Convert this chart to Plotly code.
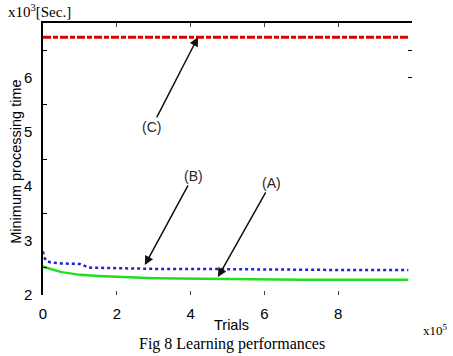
import plotly.graph_objects as go

# Data (x in units of 10^5 trials, y in units of 10^3 sec)
x_a = [0, 0.05, 0.5, 1.0, 1.5, 2.0, 2.5, 3.0, 4.0, 5.0, 6.0, 7.0, 8.0, 9.0, 9.9]
y_a = [2.53, 2.51, 2.42, 2.37, 2.35, 2.33, 2.32, 2.31, 2.30, 2.29, 2.29, 2.28, 2.28, 2.28, 2.28]

x_b = [0, 0.03, 0.08, 0.2, 0.5, 0.8, 1.0, 1.15, 1.3, 1.5, 2.0, 3.0, 4.0, 5.0, 6.0, 8.0, 9.9]
y_b = [2.80, 2.70, 2.63, 2.60, 2.58, 2.57, 2.57, 2.53, 2.50, 2.50, 2.49, 2.48, 2.48, 2.47, 2.47, 2.46, 2.46]

x_c = [0, 9.9]
y_c = [6.74, 6.74]

x_ticks = [0, 2, 4, 6, 8]
y_ticks = [2, 3, 4, 5, 6]
y_minor = [2.5, 3.5, 4.5, 5.5, 6.5]
y_right = [6, 6.5]

labels = [
    # text, tip x, tip y, text x, text y
    ("(C)", 4.2, 6.74, 2.95, 5.09),
    ("(B)", 2.76, 2.55, 4.07, 4.19),
    ("(A)", 4.74, 2.33, 6.18, 4.06),
]

fig = go.Figure()
fig.add_trace(go.Scatter(x=x_c, y=y_c, mode="lines",
                         line=dict(color="#e00000", width=3, dash="8px,2px,5px,2px"),
                         showlegend=False))
fig.add_trace(go.Scatter(x=x_b, y=y_b, mode="lines",
                         line=dict(color="#2222cc", width=2.5, dash="dot"),
                         showlegend=False))
fig.add_trace(go.Scatter(x=x_a, y=y_a, mode="lines",
                         line=dict(color="#22dd22", width=2.5),
                         showlegend=False))
# invisible traces for the secondary axes
fig.add_trace(go.Scatter(x=[0], y=[2], xaxis="x2", yaxis="y2", mode="markers",
                         marker=dict(opacity=0), showlegend=False, hoverinfo="skip"))
fig.add_trace(go.Scatter(x=[0], y=[2], xaxis="x", yaxis="y3", mode="markers",
                         marker=dict(opacity=0), showlegend=False, hoverinfo="skip"))

tickfont = dict(family="Liberation Sans, Arial", size=15, color="black")

annotations = []
for t, x, y, tx, ty in labels:
    annotations.append(dict(x=x, y=y, ax=tx, ay=ty, xref="x", yref="y", axref="x", ayref="y",
                            text=t, showarrow=True, arrowhead=2, arrowsize=1.2, arrowwidth=1.5,
                            arrowcolor="#111111",
                            font=dict(family="Liberation Sans, Arial", size=14, color="#332222")))

annotations += [
    dict(text="Minimum processing time", xref="paper", yref="paper", x=-0.073, y=0.49,
         textangle=-90, showarrow=False, xanchor="center", yanchor="middle",
         font=dict(family="Liberation Sans, Arial", size=14.5, color="black")),
    dict(text="Trials", xref="paper", yref="paper", x=0.512, y=-0.111,
         showarrow=False, xanchor="center", yanchor="middle",
         font=dict(family="Liberation Sans, Arial", size=14.5, color="black")),
    dict(text="x10<sup>5</sup>", xref="paper", yref="paper", x=1.025, y=-0.128,
         showarrow=False, xanchor="left", yanchor="middle",
         font=dict(family="Liberation Serif, Times New Roman", size=13, color="black")),
    dict(text="x10<sup>3</sup>[Sec.]", xref="paper", yref="paper", x=-0.1, y=1.044,
         showarrow=False, xanchor="left", yanchor="middle",
         font=dict(family="Liberation Serif, Times New Roman", size=15, color="black")),
    dict(text="Fig 8 Learning performances", xref="paper", yref="paper", x=0.512, y=-0.18,
         showarrow=False, xanchor="center", yanchor="middle",
         font=dict(family="Liberation Serif, Times New Roman", size=16, color="black")),
]

fig.update_layout(
    width=453, height=356,
    margin=dict(l=43, r=41, t=23, b=61),
    paper_bgcolor="white", plot_bgcolor="white",
    xaxis=dict(range=[0, 10], tickvals=x_ticks, ticks="inside", ticklen=4, tickcolor="#444",
               showline=False, showgrid=False, zeroline=False, tickfont=tickfont,
               ticklabelstandoff=8),
    xaxis2=dict(range=[0, 10], overlaying="x", side="top", tickvals=x_ticks, ticks="inside",
                ticklen=4, tickcolor="#444", showticklabels=False, showline=True,
                linecolor="black", linewidth=1.5, showgrid=False, zeroline=False),
    yaxis=dict(range=[2, 7], tickvals=y_ticks, ticks="", showline=True, linecolor="black",
               linewidth=1.5, showgrid=False, zeroline=False, tickfont=tickfont,
               ticklabelstandoff=6),
    yaxis2=dict(range=[2, 7], overlaying="y", side="left", tickvals=y_minor, ticks="inside",
                ticklen=4, tickcolor="black", showticklabels=False, showline=False,
                showgrid=False, zeroline=False),
    yaxis3=dict(range=[2, 7], overlaying="y", side="right", tickvals=y_right, ticks="inside",
                ticklen=4, tickcolor="black", showticklabels=False, showline=False,
                showgrid=False, zeroline=False),
    annotations=annotations,
)

fig.write_html("out.html")
